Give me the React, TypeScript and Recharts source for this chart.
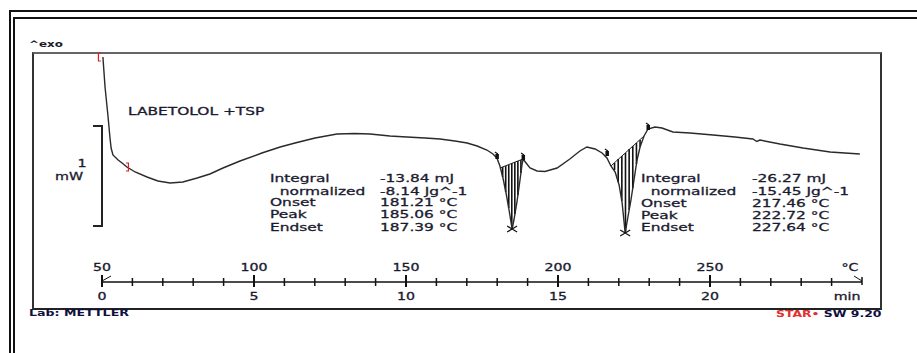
import React from 'react';
import { ComposedChart, Line, Scatter, XAxis, YAxis } from 'recharts';

// DSC curve: temperature (°C) and heat flow (mW, arbitrary offset)
const tempC = [
  50.3, 51.0, 52.0, 52.6, 53.0, 53.6, 55.3, 56.6, 58.2, 60.9, 64.8, 68.4, 72.4, 76.6, 81.3, 85.5,
  89.8, 95.4, 102.6, 108.6, 113.5, 120.1, 127.3, 133.2, 138.2, 144.7, 150.3, 156.3, 161.2, 166.1,
  170.1, 173.4, 176.6, 178.6, 179.9, 180.9, 181.9, 182.9, 183.9, 184.9, 185.5, 186.5, 187.5, 188.2,
  188.5, 189.5, 190.8, 193.1, 195.7, 199.7, 203.9, 207.2, 209.5, 212.2, 214.5, 216.1, 217.4, 218.8,
  220.1, 221.1, 222.1, 223.0, 224.0, 225.0, 226.0, 227.0, 228.3, 229.6, 231.9, 234.2, 237.8, 243.4,
  251.0, 258.2, 264.1, 265.4, 266.4, 273.0, 280.6, 289.5, 294.4, 299.3,
];
const heatFlow = [
  1.73, 1.43, 1.13, 0.93, 0.82, 0.75, 0.7, 0.67, 0.63, 0.58, 0.53, 0.49, 0.47, 0.48, 0.52, 0.56,
  0.62, 0.69, 0.77, 0.83, 0.87, 0.92, 0.96, 0.965, 0.96, 0.94, 0.93, 0.92, 0.91, 0.89,
  0.87, 0.84, 0.8, 0.76, 0.72, 0.64, 0.52, 0.37, 0.2, 0.01, 0.1, 0.28, 0.5, 0.66,
  0.71, 0.67, 0.62, 0.59, 0.585, 0.62, 0.71, 0.79, 0.83, 0.81, 0.77, 0.72, 0.64, 0.58,
  0.45, 0.27, -0.03, 0.13, 0.3, 0.5, 0.7, 0.83, 0.94, 1.01, 1.03, 1.02, 0.98, 0.97,
  0.95, 0.93, 0.91, 0.885, 0.9, 0.86, 0.82, 0.78, 0.77, 0.76,
];

// integration hatching (integral baseline to curve)
const hatchT = [181.8, 182.8, 183.8, 184.8, 185.8, 186.8, 187.8, 218.6, 219.8, 221.0, 222.2, 223.4, 224.6, 225.8, 227.0];
const hatchTop = [0.63, 0.64, 0.65, 0.67, 0.68, 0.69, 0.7, 0.67, 0.71, 0.74, 0.77, 0.81, 0.84, 0.87, 0.9];
const hatchBottom = [0.53, 0.38, 0.22, 0.03, 0.16, 0.35, 0.57, 0.6, 0.48, 0.29, -0.02, 0.2, 0.42, 0.66, 0.83];
const baselineT = [180.9, 188.5, 217.4, 228.3];
const baselineV = [0.62, 0.71, 0.64, 0.94];

const peakT = [184.9, 222.1];
const peakV = [0.01, -0.03];
const flagT = [179.9, 188.5, 216.1, 229.6];
const flagV = [0.74, 0.73, 0.77, 1.03];
const openBracket = [{ T: 50.3, v: 1.73 }];
const closeBracket = [{ T: 58.2, v: 0.63 }];

const axisTicks = [50, 60, 70, 80, 90, 100, 110, 120, 130, 140, 150, 160, 170, 180, 190, 200, 210, 220, 230, 240, 250, 260, 270, 280, 290, 300];

const peak1Labels = ['Integral', '  normalized', 'Onset', 'Peak', 'Endset'];
const peak1Values = ['-13.84 mJ', '-8.14 Jg^-1', '181.21 °C', '185.06 °C', '187.39 °C'];
const peak2Labels = ['Integral', '  normalized', 'Onset', 'Peak', 'Endset'];
const peak2Values = ['-26.27 mJ', '-15.45 Jg^-1', '217.46 °C', '222.72 °C', '227.64 °C'];
const rowY = [178, 191, 202.5, 214.5, 227];

const curveData = tempC.map((T, i) => ({ T, v: heatFlow[i] }));
const hatchData = hatchT.flatMap((T, i) => [
  { T, v: hatchTop[i] },
  { T, v: hatchBottom[i] },
  { T, v: null },
]);
const baselineData = [
  { T: baselineT[0], v: baselineV[0] },
  { T: baselineT[1], v: baselineV[1] },
  { T: baselineT[1], v: null },
  { T: baselineT[2], v: baselineV[2] },
  { T: baselineT[3], v: baselineV[3] },
];
const peakData = peakT.map((T, i) => ({ T, v: peakV[i] }));
const flagData = flagT.map((T, i) => ({ T, v: flagV[i] }));

const FONT = '"DejaVu Sans", Verdana, sans-serif';
const INK = '#1b1b30';

type TxtProps = {
  x: number;
  y: number;
  text: string;
  size?: number;
  bold?: boolean;
  color?: string;
  align?: 'left' | 'center' | 'right';
  sx?: number;
};

const Txt = ({ x, y, text, size = 11, bold = false, color = INK, align = 'left', sx = 1.4 }: TxtProps) => {
  const style: React.CSSProperties = {
    position: 'absolute',
    top: y - size * 0.48,
    fontSize: size,
    lineHeight: `${size}px`,
    fontFamily: FONT,
    fontWeight: bold ? 700 : 400,
    color,
    whiteSpace: 'pre',
    WebkitTextStroke: bold ? undefined : `0.3px ${color}`,
  };
  if (align === 'left') {
    style.left = x;
    style.transformOrigin = 'left center';
    style.transform = `scaleX(${sx})`;
  } else if (align === 'center') {
    style.left = x;
    style.transformOrigin = 'center';
    style.transform = `translateX(-50%) scaleX(${sx})`;
  } else {
    style.right = 917 - x;
    style.transformOrigin = 'right center';
    style.transform = `scaleX(${sx})`;
  }
  return <div style={style}>{text}</div>;
};

const AxisText = ({ x, y, s }: { x: number; y: number; s: string }) => (
  <text
    transform={`translate(${x},${y}) scale(1.35,1)`}
    textAnchor="middle"
    dominantBaseline="central"
    fontFamily={FONT}
    fontSize={10.5}
    fill={INK}
    stroke={INK}
    strokeWidth={0.3}
  >
    {s}
  </text>
);

const AxisTick = (props: any) => {
  const { x, y, payload } = props;
  const t: number = payload.value;
  const major = (t - 50) % 50 === 0;
  const stroke = '#111';
  if (t === 300) {
    return (
      <g>
        <line x1={x} x2={x} y1={y - 5} y2={y + 3} stroke={stroke} strokeWidth={1.5} />
        <line x1={x - 8} x2={x} y1={y - 6} y2={y - 1} stroke={stroke} strokeWidth={1} />
        <AxisText x={x - 12} y={y - 15} s="°C" />
        <AxisText x={x - 15} y={y + 14} s="min" />
      </g>
    );
  }
  return (
    <g>
      <line x1={x} x2={x} y1={y - (major ? 7 : 4)} y2={y + (major ? 5 : 4)} stroke={stroke} strokeWidth={major ? 2 : 1.5} />
      {t === 50 && <line x1={x} x2={x + 9} y1={y - 1} y2={y - 6} stroke={stroke} strokeWidth={1} />}
      {major && <AxisText x={x} y={y - 15} s={String(t)} />}
      {major && <AxisText x={x} y={y + 14} s={String((t - 50) / 10)} />}
    </g>
  );
};

const CrossMark = (p: any) => (
  <path
    d={`M${p.cx - 5},${p.cy - 3}L${p.cx + 5},${p.cy + 3}M${p.cx - 5},${p.cy + 3}L${p.cx + 5},${p.cy - 3}`}
    stroke="#111"
    strokeWidth={1.2}
    fill="none"
  />
);

const FlagMark = (p: any) => (
  <g>
    <rect x={p.cx - 1.5} y={p.cy - 2} width={3.5} height={5} fill="#111" />
    <line x1={p.cx - 2} y1={p.cy - 4} x2={p.cx + 1} y2={p.cy - 2} stroke="#111" strokeWidth={1.2} />
  </g>
);

const OpenBracket = (p: any) => (
  <path d={`M${p.cx - 2},${p.cy - 4}H${p.cx - 4.5}V${p.cy + 4}H${p.cx - 2}`} stroke="#e02020" strokeWidth={1.2} fill="none" />
);

const CloseBracket = (p: any) => (
  <path d={`M${p.cx - 1},${p.cy - 4}H${p.cx + 1.5}V${p.cy + 4}H${p.cx - 1}`} stroke="#e02020" strokeWidth={1.2} fill="none" />
);

export default function App() {
  return (
    <div style={{ position: 'absolute', left: 0, top: 0, width: 917, height: 353, overflow: 'hidden', background: '#fff' }}>
      {/* outer double frame */}
      <div style={{ position: 'absolute', left: 9, top: 10, width: 1000, height: 500, border: '2px solid #111' }} />
      <div style={{ position: 'absolute', left: 13, top: 17, width: 1000, height: 500, border: '2px solid #111' }} />
      {/* plot box */}
      <div style={{ position: 'absolute', left: 32, top: 52, width: 846, height: 254, borderTop: '2px solid #666', borderLeft: '2px solid #333', borderRight: '2px solid #333', borderBottom: '2px solid #222' }} />
      {/* 1 mW scale bar */}
      <div style={{ position: 'absolute', left: 93, top: 125, width: 8, height: 98, borderTop: '2px solid #222', borderRight: '2px solid #222', borderBottom: '2px solid #222' }} />

      <div style={{ position: 'absolute', left: 0, top: 0 }}>
        <ComposedChart width={917} height={353} margin={{ top: 52, right: 55, bottom: 41, left: 102 }}>
          <XAxis
            type="number"
            dataKey="T"
            domain={[50, 300]}
            ticks={axisTicks}
            interval={0}
            height={30}
            tickSize={0}
            tickMargin={0}
            tickLine={false}
            axisLine={{ stroke: '#111', strokeWidth: 1.5 }}
            tick={<AxisTick />}
          />
          <YAxis type="number" dataKey="v" domain={[-0.52, 1.78]} hide />
          <Line data={hatchData} dataKey="v" stroke="#111" strokeWidth={1.6} dot={false} isAnimationActive={false} connectNulls={false} />
          <Line data={baselineData} dataKey="v" stroke="#222" strokeWidth={1} dot={false} isAnimationActive={false} connectNulls={false} />
          <Line data={curveData} dataKey="v" stroke="#2a2a2a" strokeWidth={1.4} dot={false} isAnimationActive={false} />
          <Scatter data={peakData} dataKey="v" shape={<CrossMark />} isAnimationActive={false} />
          <Scatter data={flagData} dataKey="v" shape={<FlagMark />} isAnimationActive={false} />
          <Scatter data={openBracket} dataKey="v" shape={<OpenBracket />} isAnimationActive={false} />
          <Scatter data={closeBracket} dataKey="v" shape={<CloseBracket />} isAnimationActive={false} />
        </ComposedChart>
      </div>

      <Txt x={29} y={44} text="^exo" size={8.5} bold />
      <Txt x={128} y={111} text="LABETOLOL +TSP" size={11} />
      <Txt x={81.5} y={163} text="1" size={11} align="center" sx={1.3} />
      <Txt x={69} y={176.5} text="mW" size={11} align="center" sx={1.3} />

      {peak1Labels.map((s, i) => (
        <Txt key={`l1${i}`} x={270} y={rowY[i]} text={s} />
      ))}
      {peak1Values.map((s, i) => (
        <Txt key={`v1${i}`} x={380} y={rowY[i]} text={s} />
      ))}
      {peak2Labels.map((s, i) => (
        <Txt key={`l2${i}`} x={641} y={rowY[i] + 0.5} text={s} />
      ))}
      {peak2Values.map((s, i) => (
        <Txt key={`v2${i}`} x={752} y={rowY[i] + 0.5} text={s} />
      ))}

      <Txt x={29} y={313} text="Lab: METTLER" size={9} bold color="#101040" />
      <div
        style={{
          position: 'absolute',
          right: 917 - 881,
          top: 314 - 9 * 0.48,
          fontSize: 9,
          lineHeight: '9px',
          fontFamily: FONT,
          fontWeight: 700,
          whiteSpace: 'pre',
          transformOrigin: 'right center',
          transform: 'scaleX(1.38)',
          color: '#101040',
        }}
      >
        <span style={{ color: '#e03030' }}>STAR•</span> SW 9.20
      </div>
    </div>
  );
}
